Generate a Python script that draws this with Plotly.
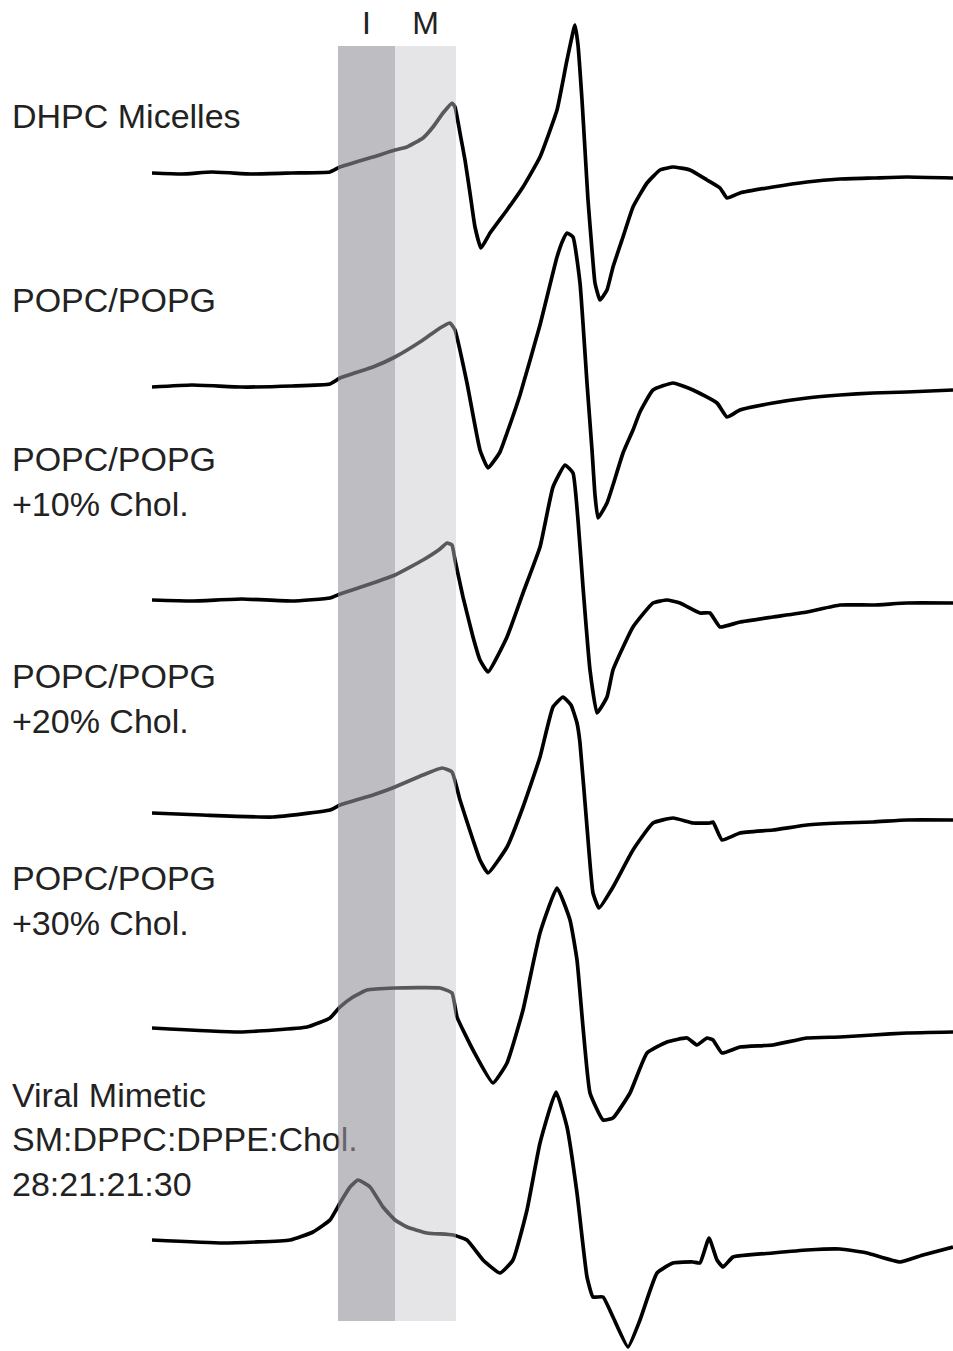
import plotly.graph_objects as go

# Stacked EPR spectra: field position (arb. units) and derivative signal (arb. units)
dhpc_x = [0, 30, 60, 100, 140, 178, 188, 221, 243, 255, 271, 281, 291, 300, 303, 308, 313, 318, 323, 329,
          338, 355, 371, 388, 405, 415, 423, 426, 430, 433, 436, 440, 443, 448, 455, 461, 471, 481, 495, 508,
          521, 538, 555, 568, 575, 588, 621, 655, 688, 721, 755, 801]
dhpc_y = [0, -1, 1, -1, 0, 1, 6, 16, 23, 26, 35, 46, 60, 70, 66, 40, 13, -20, -54, -75,
          -60, -37, -14, 16, 63, 113, 148, 128, 73, 23, -27, -77, -110, -127, -117, -94, -64, -34, -10, 3,
          6, 3, -7, -15, -25, -20, -14, -9, -6, -5, -4, -5]

popc_x = [0, 40, 90, 140, 178, 188, 221, 243, 271, 288, 298, 303, 315, 328, 336, 348, 355, 368, 388, 405,
          411, 415, 421, 428, 435, 440, 443, 446, 455, 461, 471, 481, 488, 501, 521, 541, 565, 575, 588, 621,
          655, 688, 721, 755, 801]
popc_y = [-1, 1, -1, 0, 2, 8, 19, 29, 46, 58, 63, 56, 3, -64, -82, -66, -47, -9, 61, 129,
          146, 153, 149, 103, 3, -64, -109, -132, -117, -99, -67, -44, -26, -4, 3, -4, -17, -31, -24, -17,
          -12, -9, -7, -6, -4]

chol10_x = [0, 40, 90, 140, 178, 188, 221, 243, 271, 288, 295, 300, 303, 311, 321, 328, 336, 355, 371, 388,
            401, 413, 421, 426, 431, 438, 445, 455, 461, 481, 501, 515, 528, 548, 558, 568, 588, 621, 655, 688,
            721, 755, 801]
chol10_y = [0, -1, 1, -1, 2, 6, 17, 25, 40, 51, 57, 55, 40, 3, -37, -60, -72, -37, 7, 53,
            113, 135, 127, 80, 13, -70, -113, -97, -70, -27, -3, 0, -3, -13, -13, -27, -22, -17, -12, -5,
            -5, -3, -3]

chol20_x = [0, 50, 121, 178, 188, 221, 243, 271, 290, 300, 308, 321, 328, 336, 355, 371, 388, 401, 411, 419,
            425, 428, 435, 441, 447, 461, 481, 501, 521, 541, 558, 561, 570, 588, 621, 655, 688, 721, 755, 801]
chol20_y = [0, -2, -4, 3, 8, 18, 26, 38, 45, 41, 13, -27, -47, -60, -34, 6, 56, 106, 116, 108,
            90, 70, -14, -80, -95, -74, -37, -10, -5, -10, -10, -9, -27, -20, -17, -12, -10, -9, -7, -7]

chol30_x = [0, 88, 155, 178, 188, 201, 215, 243, 288, 300, 305, 321, 341, 355, 371, 388, 405, 418, 425, 431,
            438, 451, 461, 478, 495, 515, 535, 545, 555, 561, 570, 588, 621, 655, 688, 721, 755, 801]
chol30_y = [0, -4, 1, 10, 21, 31, 38, 40, 40, 35, 11, -22, -55, -35, 18, 95, 140, 108, 68, 1,
            -65, -92, -90, -65, -25, -14, -10, -17, -10, -12, -25, -19, -17, -10, -9, -7, -5, -4]

viral_x = [0, 71, 138, 161, 178, 188, 198, 206, 218, 231, 243, 255, 275, 301, 315, 331, 348, 361, 375, 388,
           404, 415, 425, 435, 441, 451, 461, 476, 488, 505, 521, 541, 548, 557, 565, 571, 581, 621, 655, 688,
           715, 748, 771, 801]
viral_y = [0, -3, 0, 8, 20, 37, 53, 60, 53, 33, 20, 13, 7, 5, 0, -20, -33, -20, 30, 97,
           148, 113, 47, -37, -57, -57, -77, -107, -80, -33, -23, -22, -23, 2, -20, -27, -17, -13, -10, -9,
           -13, -22, -15, -7]

spectra_x = [dhpc_x, popc_x, chol10_x, chol20_x, chol30_x, viral_x]
spectra_y = [dhpc_y, popc_y, chol10_y, chol20_y, chol30_y, viral_y]
baselines = [-173, -386, -600, -813, -1028, -1240]

sample_labels = [
    "DHPC Micelles",
    "POPC/POPG",
    "POPC/POPG<br>+10% Chol.",
    "POPC/POPG<br>+20% Chol.",
    "POPC/POPG<br>+30% Chol.",
    "Viral Mimetic<br>SM:DPPC:DPPE:Chol.<br>28:21:21:30",
]
label_y = [-119, -303, -485, -702, -904, -1143]

# Immobile (I) and mobile (M) component regions on the field axis
region_names = ["I", "M"]
region_edges = [(186, 243), (243, 304)]
region_fill = ["rgba(146,147,153,0.6)", "rgba(198,198,204,0.45)"]

TEXT_FONT = dict(family="Liberation Sans, Arial, sans-serif", size=34, color="#222222")

fig = go.Figure()

for xs, ys, base in zip(spectra_x, spectra_y, baselines):
    fig.add_trace(go.Scatter(
        x=xs, y=[base + v for v in ys], mode="lines",
        line=dict(color="black", width=3.7, shape="spline", smoothing=0.4),
        hoverinfo="skip", showlegend=False,
    ))

fig.add_trace(go.Scatter(
    x=[-140] * len(sample_labels), y=label_y, text=sample_labels,
    mode="text", textposition="middle right", textfont=TEXT_FONT,
    hoverinfo="skip", showlegend=False, cliponaxis=False,
))

fig.add_trace(go.Scatter(
    x=[(a + b) / 2 for a, b in region_edges], y=[-26, -26], text=region_names,
    mode="text", textposition="middle center", textfont=dict(TEXT_FONT, size=32),
    hoverinfo="skip", showlegend=False, cliponaxis=False,
))

for (x0, x1), fill in zip(region_edges, region_fill):
    fig.add_shape(type="rect", x0=x0, x1=x1, y0=-1321, y1=-46, xref="x", yref="y",
                  fillcolor=fill, line=dict(width=0), layer="above")

fig.update_xaxes(range=[-152, 801], visible=False, fixedrange=True)
fig.update_yaxes(range=[-1351, 0], visible=False, fixedrange=True)
fig.update_layout(
    width=953, height=1351, autosize=False,
    margin=dict(l=0, r=0, t=0, b=0),
    paper_bgcolor="white", plot_bgcolor="white",
)

fig.write_html("out.html")
